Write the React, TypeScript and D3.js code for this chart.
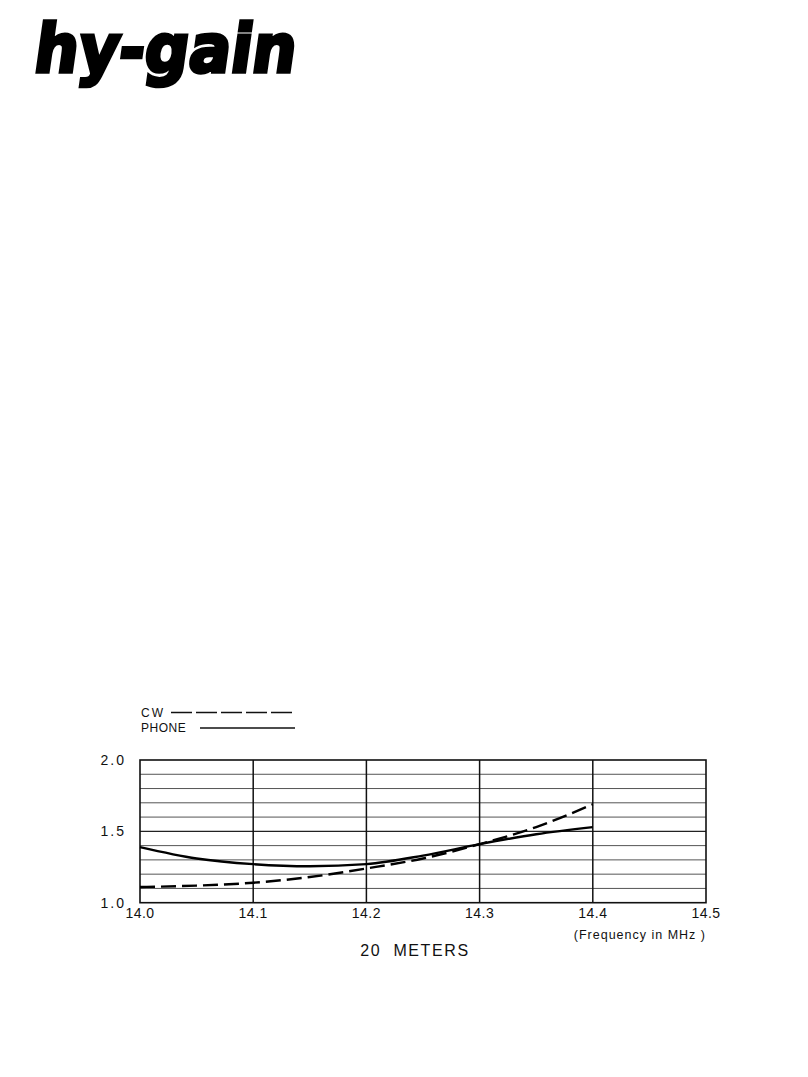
import React from "react";
import * as d3 from "d3";

const frequencies = [14.0, 14.05, 14.1, 14.15, 14.2, 14.25, 14.3, 14.35, 14.4];
const phoneSwr = [1.39, 1.31, 1.27, 1.255, 1.27, 1.33, 1.41, 1.48, 1.53];
const cwSwr = [1.11, 1.12, 1.14, 1.18, 1.24, 1.31, 1.41, 1.53, 1.69];
const xTicks = [14.0, 14.1, 14.2, 14.3, 14.4, 14.5];
const yTicks = [1.0, 1.5, 2.0];
const yGrid = [1.1, 1.2, 1.3, 1.4, 1.5, 1.6, 1.7, 1.8, 1.9];
const seriesNames = ["CW", "PHONE"];

const W = 808;
const H = 1077;
const left = 140, right = 706, top = 760, bottom = 902.7;

export default function App() {
  const x = d3.scaleLinear().domain([14.0, 14.5]).range([left, right]);
  const y = d3.scaleLinear().domain([1.0, 2.0]).range([bottom, top]);
  const line = d3
    .line<number>()
    .x((_, i) => x(frequencies[i]))
    .y((d) => y(d))
    .curve(d3.curveMonotoneX);
  const font = "'Liberation Sans', Arial, sans-serif";
  return (
    <svg
      width={W}
      height={H}
      style={{ position: "absolute", left: 0, top: 0, background: "#fff" }}
    >
      <rect x={0} y={0} width={W} height={H} fill="#fff" />
      {/* logo */}
      <g transform="translate(32,72) skewX(-8) scale(1,1.05)">
        <text
          x={0}
          y={0}
          fontFamily="'DejaVu Sans', sans-serif"
          fontWeight={900}
          fontSize={64}
          textLength={262}
          lengthAdjust="spacingAndGlyphs"
          fill="#000"
          stroke="#000"
          strokeWidth={3.5}
          strokeLinejoin="miter"
        >
          hy-gain
        </text>
      </g>
      {/* grid */}
      {yGrid.map((v) => (
        <line
          key={"h" + v}
          x1={left}
          x2={right}
          y1={y(v)}
          y2={y(v)}
          stroke={v === 1.5 ? "#222" : "#555"}
          strokeWidth={v === 1.5 ? 1.4 : 1}
        />
      ))}
      {xTicks.slice(1, -1).map((v) => (
        <line
          key={"v" + v}
          x1={x(v)}
          x2={x(v)}
          y1={top}
          y2={bottom}
          stroke="#111"
          strokeWidth={1.5}
        />
      ))}
      <rect
        x={left}
        y={top}
        width={right - left}
        height={bottom - top}
        fill="none"
        stroke="#111"
        strokeWidth={1.6}
      />
      {/* curves */}
      <path d={line(phoneSwr) || ""} fill="none" stroke="#000" strokeWidth={2.4} />
      <path
        d={line(cwSwr) || ""}
        fill="none"
        stroke="#000"
        strokeWidth={2.4}
        strokeDasharray="15 6"
      />
      {/* y labels */}
      {yTicks.map((v) => (
        <text
          key={"yl" + v}
          x={126}
          y={y(v) + 5}
          textAnchor="end"
          fontFamily={font}
          fontSize={14}
          fill="#111"
          style={{ letterSpacing: "2px" }}
        >
          {v.toFixed(1)}
        </text>
      ))}
      {/* x labels */}
      {xTicks.map((v) => (
        <text
          key={"xl" + v}
          x={x(v)}
          y={918}
          textAnchor="middle"
          fontFamily={font}
          fontSize={14}
          fill="#111"
          style={{ letterSpacing: "0.5px" }}
        >
          {v.toFixed(1)}
        </text>
      ))}
      <text
        x={706}
        y={939}
        textAnchor="end"
        fontFamily={font}
        fontSize={12.5}
        fill="#111"
        style={{ letterSpacing: "1px" }}
      >
        (Frequency in MHz )
      </text>
      <text
        x={415}
        y={956}
        textAnchor="middle"
        fontFamily={font}
        fontSize={16}
        fill="#111"
        style={{ letterSpacing: "1.6px", whiteSpace: "pre" }}
      >
        20  METERS
      </text>
      {/* legend */}
      <text x={141} y={717} fontFamily={font} fontSize={12} fill="#111" style={{ letterSpacing: "2px" }}>
        {seriesNames[0]}
      </text>
      <line x1={171} x2={295} y1={712.5} y2={712.5} stroke="#111" strokeWidth={1.6} strokeDasharray="21 4" />
      <text x={141} y={732} fontFamily={font} fontSize={12} fill="#111" style={{ letterSpacing: "0.5px" }}>
        {seriesNames[1]}
      </text>
      <line x1={200} x2={295} y1={728} y2={728} stroke="#111" strokeWidth={1.6} />
    </svg>
  );
}
